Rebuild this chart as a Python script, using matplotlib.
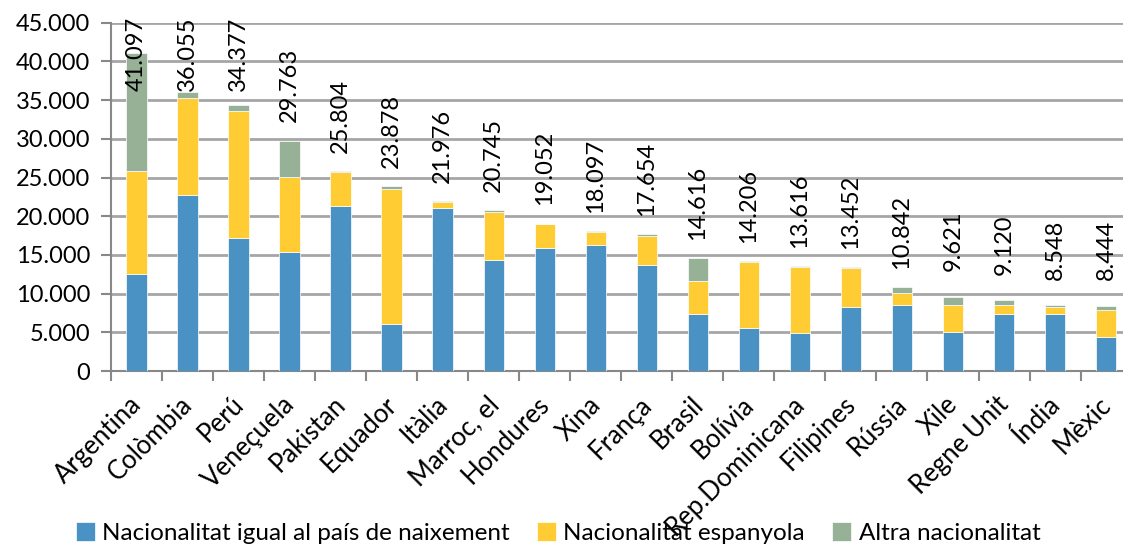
import matplotlib
matplotlib.use("Agg")
import matplotlib.pyplot as plt
from matplotlib.transforms import ScaledTranslation
import numpy as np

countries = ["Argentina", "Colòmbia", "Perú", "Veneçuela", "Pakistan", "Equador", "Itàlia",
             "Marroc, el", "Hondures", "Xina", "França", "Brasil", "Bolívia", "Rep.Dominicana",
             "Filipines", "Rússia", "Xile", "Regne Unit", "Índia", "Mèxic"]
totals = [41097, 36055, 34377, 29763, 25804, 23878, 21976, 20745, 19052, 18097, 17654,
          14616, 14206, 13616, 13452, 10842, 9621, 9120, 8548, 8444]
same_nat = [12500, 22730, 17150, 15330, 21300, 6060, 21040, 14290, 15850, 16330, 13680,
            7400, 5590, 4850, 8220, 8480, 4980, 7320, 7400, 4330]
spanish_nat = [13400, 12560, 16450, 9780, 4460, 17450, 740, 6230, 3200, 1600, 3730,
               4250, 8440, 8570, 5070, 1610, 3590, 1160, 910, 3550]
other_nat = [t - a - b for t, a, b in zip(totals, same_nat, spanish_nat)]

series_names = ["Nacionalitat igual al país de naixement", "Nacionalitat espanyola", "Altra nacionalitat"]
colors = ["#4A91C4", "#FFCC33", "#96B196"]

plt.rcParams['font.family'] = ['Lato', 'DejaVu Sans']
FS = 17

fig = plt.figure(figsize=(11.23, 5.47), dpi=100)
ax = fig.add_axes([111/1123, 1-371/547, (1131.6-111)/1123, (371-22.7)/547])

x = np.arange(len(countries))
w = 0.4
b1 = ax.bar(x, same_nat, w, color=colors[0], edgecolor='white', linewidth=0.5, zorder=3, label=series_names[0])
b2 = ax.bar(x, spanish_nat, w, bottom=same_nat, color=colors[1], edgecolor='white', linewidth=0.5, zorder=3, label=series_names[1])
bot3 = [a + b for a, b in zip(same_nat, spanish_nat)]
b3 = ax.bar(x, other_nat, w, bottom=bot3, color=colors[2], edgecolor='white', linewidth=0.5, zorder=3, label=series_names[2])

for i, t in enumerate(totals):
    ypos = min(t + 7150, 41000)
    ax.text(i, ypos, f"{t:,}".replace(",", "."), rotation=90, ha='center', va='center',
            fontsize=FS, color='black', zorder=5)

ax.set_xlim(-0.5, len(countries) - 0.5)
ax.set_ylim(0, 45000)
ax.set_yticks(np.arange(0, 45001, 5000))
ax.set_yticklabels([f"{v:,}".replace(",", ".") for v in range(0, 45001, 5000)], fontsize=FS)
ax.yaxis.grid(True, color='#A6A6A6', linewidth=2, zorder=0)
ax.set_axisbelow(True)

ax.set_xticks(x)
ax.set_xticklabels(countries, rotation=45, ha='right', fontsize=18.5)
ax.set_xticks(np.arange(-0.5, len(countries), 1), minor=True)
ax.tick_params(axis='x', which='major', length=0, pad=15)
ax.tick_params(axis='x', which='minor', length=7, color='#888888', width=1.5)
ax.tick_params(axis='y', length=7, color='#888888', width=1.5, pad=8)
shift = ScaledTranslation(10/100, 0, fig.dpi_scale_trans)
for lab in ax.get_xticklabels():
    lab.set_transform(lab.get_transform() + shift)

for s in ['top', 'right']:
    ax.spines[s].set_visible(False)
for s in ['left', 'bottom']:
    ax.spines[s].set_color('#888888')
    ax.spines[s].set_linewidth(1.5)

fig.legend(handles=[b1, b2, b3], labels=series_names, loc='center', bbox_to_anchor=(558/1123, 1-533/547),
           ncol=3, frameon=False, fontsize=17.5, handlelength=0.8, handleheight=0.8,
           handletextpad=0.3, columnspacing=1.1, borderaxespad=0)

fig.savefig("out.png", dpi=100)
